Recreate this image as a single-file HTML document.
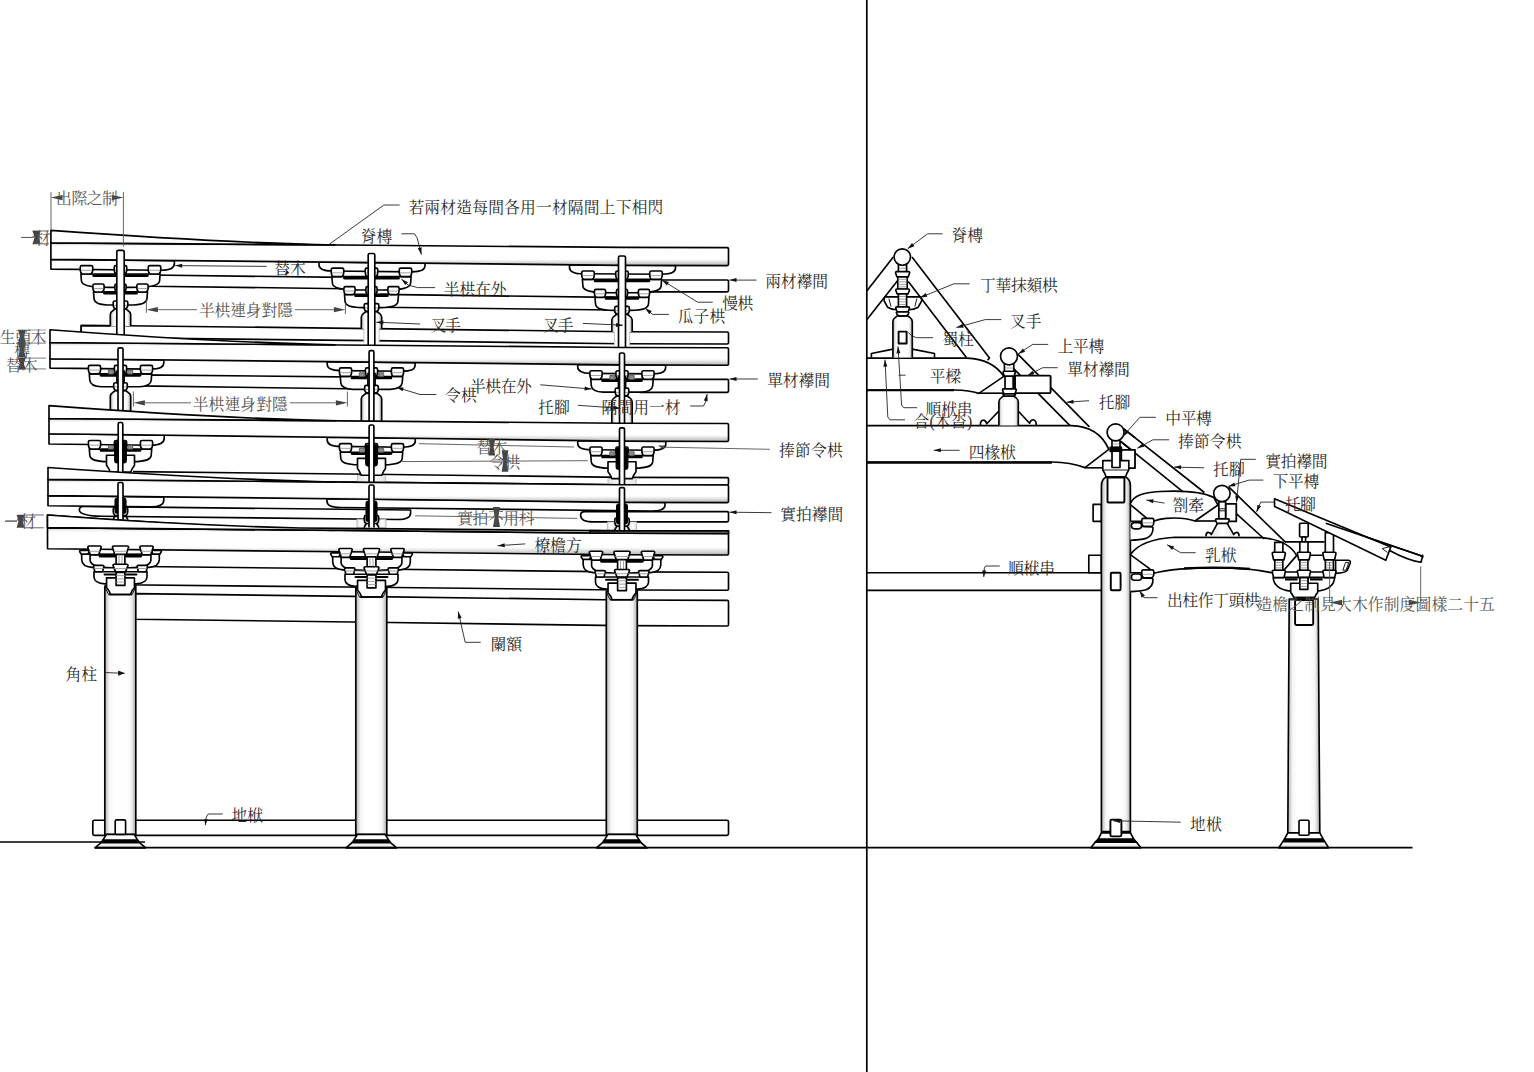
<!DOCTYPE html>
<html lang="zh-Hant"><head><meta charset="utf-8"><title>大木作制度圖樣 槫縫襻間</title><style>
html,body{margin:0;padding:0;background:#fff}
body{width:1534px;height:1072px;overflow:hidden;font-family:"Liberation Serif",serif}
svg{display:block}
.L path,.L rect,.L circle,.L polygon{stroke:#000;stroke-width:1.65;fill:#fff;stroke-linejoin:round;stroke-linecap:butt}
.L .pl{fill:url(#gp)}
.L .col{fill:url(#gc)}
.L .bt{fill:url(#gc)}
.L .g{stroke:#8a8a8a;stroke-width:.8;fill:none}
.L .lg{stroke:#c4c4c4;stroke-width:1;fill:none}
.L .nf{stroke:none;fill:#fff}
.L .wf{fill:#fff}
.L .bk{fill:#000}
.L .gb{fill:#8c8c8c;stroke:#444;stroke-width:.7}
.L .lgb{fill:url(#gl);stroke:#bdbdbd;stroke-width:1}
.L .bs{fill:url(#gb)}
.L .gs{fill:#808080}
.L .lgb2{fill:url(#gl);stroke:none}
.L .t{stroke-width:.9;fill:none}
.L .nofill{fill:none}
.L .thin{stroke-width:1;fill:none}
.A path{stroke:#222;stroke-width:.9;fill:none}
.A .ah{fill:#111;stroke:none}
.D path{stroke:#555;stroke-width:.9;fill:none}
.D .ah{fill:#444;stroke:none}
.D .w{stroke:#999;stroke-width:1.2}
.tx{fill:#2a2a2a;font-family:"Liberation Serif","Noto Serif CJK SC",serif;font-size:15.8px}
.tg{fill:#555;font-family:"Liberation Serif","Noto Serif CJK SC",serif;font-size:15.8px}
</style></head><body>
<svg width="1534" height="1072" viewBox="0 0 1534 1072">
<defs>
<linearGradient id="gp" x1="0" y1="0" x2="0" y2="1"><stop offset="0" stop-color="#d0d0d0"/><stop offset=".16" stop-color="#fff"/><stop offset=".72" stop-color="#fff"/><stop offset="1" stop-color="#b4b4b4"/></linearGradient>
<linearGradient id="gc" x1="0" y1="0" x2="1" y2="0"><stop offset="0" stop-color="#b0b0b0"/><stop offset=".15" stop-color="#f6f6f6"/><stop offset=".3" stop-color="#fff"/><stop offset=".7" stop-color="#fff"/><stop offset=".85" stop-color="#f4f4f4"/><stop offset="1" stop-color="#a8a8a8"/></linearGradient>
<linearGradient id="gl" x1="0" y1="0" x2="1" y2="0"><stop offset="0" stop-color="#e2e2e2"/><stop offset=".5" stop-color="#fff"/><stop offset="1" stop-color="#e2e2e2"/></linearGradient>
<linearGradient id="gb" x1="0" y1="0" x2="0" y2="1"><stop offset="0" stop-color="#fff"/><stop offset=".6" stop-color="#eee"/><stop offset="1" stop-color="#999"/></linearGradient>
</defs>
<g class="L">
<path d="M81.2 325.2L371.5 328.56L622 331.71L727.2 332Q728.5 332 728.5 333.3V342.7Q728.5 344 727.2 344L622 343.72L371.5 340.66L81.2 337.4Z"/>
<path d="M150 275.0L344 277.4V288.7L150 286.2Z"/>
<path d="M380 294.4L614 297.4V310.0L380 307.2Z"/>
<path d="M645 280.0H727.2Q728.5 280 728.5 281.3V290.6Q728.5 291.9 727.2 291.9H650Z"/>
<path d="M50.9 259.31V269.11L161.4 270.24C169.2 270.24 174.4 268.9 174.4 263.51V260.57Z"/>
<path d="M319 262.04v2.64C319 269.52 324.2 270.97 332 270.97L412 271.82C419.8 271.82 425 270.65 425 265.81V263.17Z"/>
<path d="M569.5 264.77v2.64C569.5 272.25 574.7 273.71 582.5 273.71L662.5 274.24C670.3 274.24 675.5 272.95 675.5 268.11V265.47Z"/>
<path class="pl" d="M50.9 242.81L371.5 245.3L622 247.41L727.2 247.6Q728.5 247.6 728.5 248.9V264.3Q728.5 265.6 727.2 265.6L622 265.35L371.5 262.58L50.9 259.31Z"/>
<path d="M50.9 242.81V230.4Q217.95 242.5 335 245.01Z"/>
<path d="M110.3 325.86H81.2V332.07"/>
<rect class="nf" x="363.9" y="328.06" width="15.2" height="15.1"/>
<path class="lg" d="M363.9 328.56V342.66M379.1 328.56V342.66"/>
<rect class="nf" x="614.4" y="331.21" width="15.2" height="15.01"/>
<path class="lg" d="M614.4 331.71V345.72M629.6 331.71V345.72"/>
<path d="M80.9 274.02L81.4 280.72C81.9 285.54 88.82 287.15 109.41 287.42H131.59C152.18 287.15 159.1 285.54 159.6 280.72L160.1 274.02Z"/>
<path d="M93.5 275.62H147.5" style="stroke-width:2.6;stroke-linecap:round"/>
<path d="M80.25 267.22Q80.25 265.62 81.85 265.62H91.15Q92.75 265.62 92.75 267.22V269.99Q92.55 273.52 90.55 274.02H82.45Q80.45 273.52 80.25 269.99Z"/>
<path class="g" d="M81.05 270.29H91.95"/>
<path d="M114.25 267.22Q114.25 265.62 115.85 265.62H125.15Q126.75 265.62 126.75 267.22V269.99Q126.55 273.52 124.55 274.02H116.45Q114.45 273.52 114.25 269.99Z"/>
<path class="g" d="M115.05 270.29H125.95"/>
<path d="M148.25 267.22Q148.25 265.62 149.85 265.62H159.15Q160.75 265.62 160.75 267.22V269.99Q160.55 273.52 158.55 274.02H150.45Q148.45 273.52 148.25 269.99Z"/>
<path class="g" d="M149.05 270.29H159.95"/>
<path d="M93.5 291.82L94 298.42C94.5 303.17 98.9 304.75 111.86 305.02H129.14C142.1 304.75 146.5 303.17 147 298.42L147.5 291.82Z"/>
<path d="M104.5 293.22H136.5" style="stroke-width:2.6;stroke-linecap:round"/>
<path d="M92.9 285.62Q92.9 284.02 94.5 284.02H102.5Q104.1 284.02 104.1 285.62V288.18Q103.9 291.52 101.9 292.02H95.1Q93.1 291.52 92.9 288.18Z"/>
<path class="g" d="M93.7 288.48H103.3"/>
<path d="M114.9 285.62Q114.9 284.02 116.5 284.02H124.5Q126.1 284.02 126.1 285.62V288.18Q125.9 291.52 123.9 292.02H117.1Q115.1 291.52 114.9 288.18Z"/>
<path class="g" d="M115.7 288.48H125.3"/>
<path d="M136.9 285.62Q136.9 284.02 138.5 284.02H146.5Q148.1 284.02 148.1 285.62V288.18Q147.9 291.52 145.9 292.02H139.1Q137.1 291.52 136.9 288.18Z"/>
<path class="g" d="M137.7 288.48H147.3"/>
<path class="bt" d="M110.3 326.06V314.52C110.3 311.14 113.5 310.82 115 309.02H126C127.5 310.82 130.7 311.14 130.7 314.52V326.06"/>
<path d="M113.2 302.62Q113.2 301.02 114.8 301.02H126.2Q127.8 301.02 127.8 302.62V305.07Q127.6 308.32 125.6 308.82H115.4Q113.4 308.32 113.2 305.07Z"/>
<path class="g" d="M114 305.37H127"/>
<path d="M116.8 335.27V251.9Q116.8 250.4 118.3 250.4H122.7Q124.2 250.4 124.2 251.9V335.27"/>
<path d="M331.9 276.58L332.4 283.28C332.9 288.1 339.82 289.71 360.41 289.98H382.59C403.18 289.71 410.1 288.1 410.6 283.28L411.1 276.58Z"/>
<path d="M344.5 278.18H398.5" style="stroke-width:2.6;stroke-linecap:round"/>
<path d="M331.25 269.78Q331.25 268.18 332.85 268.18H342.15Q343.75 268.18 343.75 269.78V272.54Q343.55 276.08 341.55 276.58H333.45Q331.45 276.08 331.25 272.54Z"/>
<path class="g" d="M332.05 272.84H342.95"/>
<path d="M365.25 269.78Q365.25 268.18 366.85 268.18H376.15Q377.75 268.18 377.75 269.78V272.54Q377.55 276.08 375.55 276.58H367.45Q365.45 276.08 365.25 272.54Z"/>
<path class="g" d="M366.05 272.84H376.95"/>
<path d="M399.25 269.78Q399.25 268.18 400.85 268.18H410.15Q411.75 268.18 411.75 269.78V272.54Q411.55 276.08 409.55 276.58H401.45Q399.45 276.08 399.25 272.54Z"/>
<path class="g" d="M400.05 272.84H410.95"/>
<path d="M344.5 294.38L345 300.98C345.5 305.73 349.9 307.31 362.86 307.58H380.14C393.1 307.31 397.5 305.73 398 300.98L398.5 294.38Z"/>
<path d="M355.5 295.78H387.5" style="stroke-width:2.6;stroke-linecap:round"/>
<path d="M343.9 288.18Q343.9 286.58 345.5 286.58H353.5Q355.1 286.58 355.1 288.18V290.74Q354.9 294.08 352.9 294.58H346.1Q344.1 294.08 343.9 290.74Z"/>
<path class="g" d="M344.7 291.04H354.3"/>
<path d="M365.9 288.18Q365.9 286.58 367.5 286.58H375.5Q377.1 286.58 377.1 288.18V290.74Q376.9 294.08 374.9 294.58H368.1Q366.1 294.08 365.9 290.74Z"/>
<path class="g" d="M366.7 291.04H376.3"/>
<path d="M387.9 288.18Q387.9 286.58 389.5 286.58H397.5Q399.1 286.58 399.1 288.18V290.74Q398.9 294.08 396.9 294.58H390.1Q388.1 294.08 387.9 290.74Z"/>
<path class="g" d="M388.7 291.04H398.3"/>
<path class="bt" d="M361.3 328.86V317.08C361.3 313.7 364.5 313.38 366 311.58H377C378.5 313.38 381.7 313.7 381.7 317.08V328.86"/>
<path d="M364.2 305.18Q364.2 303.58 365.8 303.58H377.2Q378.8 303.58 378.8 305.18V307.63Q378.6 310.88 376.6 311.38H366.4Q364.4 310.88 364.2 307.63Z"/>
<path class="g" d="M365 307.93H378"/>
<path d="M368.2 345.5V255Q368.2 253.5 369.7 253.5H373.3Q374.8 253.5 374.8 255V345.5"/>
<path d="M582.4 279.35L582.9 286.05C583.4 290.87 590.32 292.48 610.91 292.75H633.09C653.68 292.48 660.6 290.87 661.1 286.05L661.6 279.35Z"/>
<path d="M595 280.95H649" style="stroke-width:2.6;stroke-linecap:round"/>
<path d="M581.75 272.55Q581.75 270.95 583.35 270.95H592.65Q594.25 270.95 594.25 272.55V275.32Q594.05 278.85 592.05 279.35H583.95Q581.95 278.85 581.75 275.32Z"/>
<path class="g" d="M582.55 275.62H593.45"/>
<path d="M615.75 272.55Q615.75 270.95 617.35 270.95H626.65Q628.25 270.95 628.25 272.55V275.32Q628.05 278.85 626.05 279.35H617.95Q615.95 278.85 615.75 275.32Z"/>
<path class="g" d="M616.55 275.62H627.45"/>
<path d="M649.75 272.55Q649.75 270.95 651.35 270.95H660.65Q662.25 270.95 662.25 272.55V275.32Q662.05 278.85 660.05 279.35H651.95Q649.95 278.85 649.75 275.32Z"/>
<path class="g" d="M650.55 275.62H661.45"/>
<path d="M595 297.15L595.5 303.75C596 308.5 600.4 310.08 613.36 310.35H630.64C643.6 310.08 648 308.5 648.5 303.75L649 297.15Z"/>
<path d="M606 298.55H638" style="stroke-width:2.6;stroke-linecap:round"/>
<path d="M594.4 290.95Q594.4 289.35 596 289.35H604Q605.6 289.35 605.6 290.95V293.51Q605.4 296.85 603.4 297.35H596.6Q594.6 296.85 594.4 293.51Z"/>
<path class="g" d="M595.2 293.81H604.8"/>
<path d="M616.4 290.95Q616.4 289.35 618 289.35H626Q627.6 289.35 627.6 290.95V293.51Q627.4 296.85 625.4 297.35H618.6Q616.6 296.85 616.4 293.51Z"/>
<path class="g" d="M617.2 293.81H626.8"/>
<path d="M638.4 290.95Q638.4 289.35 640 289.35H648Q649.6 289.35 649.6 290.95V293.51Q649.4 296.85 647.4 297.35H640.6Q638.6 296.85 638.4 293.51Z"/>
<path class="g" d="M639.2 293.81H648.8"/>
<path class="bt" d="M611.8 332.01V319.85C611.8 316.47 615 316.15 616.5 314.35H627.5C629 316.15 632.2 316.47 632.2 319.85V332.01"/>
<path d="M614.7 307.95Q614.7 306.35 616.3 306.35H627.7Q629.3 306.35 629.3 307.95V310.4Q629.1 313.65 627.1 314.15H616.9Q614.9 313.65 614.7 310.4Z"/>
<path class="g" d="M615.5 310.7H628.5"/>
<path d="M618.5 347.79V257.5Q618.5 256 620 256H624Q625.5 256 625.5 257.5V347.79"/>
<path d="M138 374.9L364 377.1V389.0L138 385.9Z"/>
<path d="M636 379.3H727.2Q728.5 379.3 728.5 380.6V391.0Q728.5 392.3 727.2 392.3H640Z"/>
<path d="M50 358.8V368.1L150.8 369.14C158.6 369.14 163.8 367.88 163.8 362.77V359.98Z"/>
<path d="M327.2 361.67v2.64C327.2 369.15 332.4 370.6 340.2 370.6L402.1 371.27C409.9 371.27 415.1 370.1 415.1 365.26V362.62Z"/>
<path d="M577.7 364.45v2.64C577.7 371.93 582.9 373.39 590.7 373.39L652.6 373.82C660.4 373.82 665.6 372.53 665.6 367.69V365.05Z"/>
<path class="pl" d="M50 342.5L371.5 345.2L622 347.49L727.2 347.7Q728.5 347.7 728.5 349V363.9Q728.5 365.2 727.2 365.2L622 364.94L371.5 362.13L50 358.8Z"/>
<path d="M50 342.5V329.8Q217.5 342.31 335 344.9Z"/>
<path d="M89.3 373.93L89.8 380.33C90.3 384.94 95.54 386.47 101.78 386.73H139.22C145.46 386.47 150.7 384.94 151.2 380.33L151.7 373.93Z"/>
<path d="M101 375.33H140" style="stroke-width:2.6;stroke-linecap:round"/>
<rect class="gb" x="108.3" y="370.13" width="5" height="4"/>
<rect class="gb" x="127.7" y="370.13" width="5" height="4"/>
<path d="M88.4 366.93Q88.4 365.33 90 365.33H99Q100.6 365.33 100.6 366.93V369.75Q100.4 373.33 98.4 373.83H90.6Q88.6 373.33 88.4 369.75Z"/>
<path class="g" d="M89.2 370.05H99.8"/>
<path d="M114.4 366.93Q114.4 365.33 116 365.33H125Q126.6 365.33 126.6 366.93V369.75Q126.4 373.33 124.4 373.83H116.6Q114.6 373.33 114.4 369.75Z"/>
<path class="g" d="M115.2 370.05H125.8"/>
<path d="M140.4 366.93Q140.4 365.33 142 365.33H151Q152.6 365.33 152.6 366.93V369.75Q152.4 373.33 150.4 373.83H142.6Q140.6 373.33 140.4 369.75Z"/>
<path class="g" d="M141.2 370.05H151.8"/>
<path class="bt" d="M110.3 411.18V396.23C110.3 392.85 113.5 392.53 115 390.73H126C127.5 392.53 130.7 392.85 130.7 396.23V411.18"/>
<path d="M113.7 384.33Q113.7 382.73 115.3 382.73H125.7Q127.3 382.73 127.3 384.33V386.68Q127.1 389.83 125.1 390.33H115.9Q113.9 389.83 113.7 386.68Z"/>
<path class="g" d="M114.5 386.98H126.5"/>
<rect class="wf" x="116.9" y="371.13" width="7.2" height="11.8"/>
<path d="M118.9 383.03V389.53M122.1 383.03V389.53" style="stroke-width:2.6"/>
<path d="M118 411.18V349.3Q118 347.8 119.5 347.8H121.5Q123 347.8 123 349.3V411.18"/>
<path d="M340.3 376.53L340.8 382.93C341.3 387.54 346.54 389.07 352.78 389.33H390.22C396.46 389.07 401.7 387.54 402.2 382.93L402.7 376.53Z"/>
<path d="M352 377.93H391" style="stroke-width:2.6;stroke-linecap:round"/>
<rect class="gb" x="359.3" y="372.73" width="5" height="4"/>
<rect class="gb" x="378.7" y="372.73" width="5" height="4"/>
<path d="M339.4 369.53Q339.4 367.93 341 367.93H350Q351.6 367.93 351.6 369.53V372.35Q351.4 375.93 349.4 376.43H341.6Q339.6 375.93 339.4 372.35Z"/>
<path class="g" d="M340.2 372.65H350.8"/>
<path d="M365.4 369.53Q365.4 367.93 367 367.93H376Q377.6 367.93 377.6 369.53V372.35Q377.4 375.93 375.4 376.43H367.6Q365.6 375.93 365.4 372.35Z"/>
<path class="g" d="M366.2 372.65H376.8"/>
<path d="M391.4 369.53Q391.4 367.93 393 367.93H402Q403.6 367.93 403.6 369.53V372.35Q403.4 375.93 401.4 376.43H393.6Q391.6 375.93 391.4 372.35Z"/>
<path class="g" d="M392.2 372.65H402.8"/>
<path class="bt" d="M361.3 421.4V398.83C361.3 395.45 364.5 395.13 366 393.33H377C378.5 395.13 381.7 395.45 381.7 398.83V421.4"/>
<path d="M364.7 386.93Q364.7 385.33 366.3 385.33H376.7Q378.3 385.33 378.3 386.93V389.28Q378.1 392.43 376.1 392.93H366.9Q364.9 392.43 364.7 389.28Z"/>
<path class="g" d="M365.5 389.58H377.5"/>
<rect class="wf" x="367.9" y="373.73" width="7.2" height="11.8"/>
<path d="M369.9 385.63V392.13M373.1 385.63V392.13" style="stroke-width:2.6"/>
<path d="M369.1 421.4V352.1Q369.1 350.6 370.6 350.6H372.4Q373.9 350.6 373.9 352.1V421.4"/>
<path d="M590.8 379.34L591.3 385.74C591.8 390.35 597.04 391.89 603.28 392.14H640.72C646.96 391.89 652.2 390.35 652.7 385.74L653.2 379.34Z"/>
<path d="M602.5 380.74H641.5" style="stroke-width:2.6;stroke-linecap:round"/>
<rect class="gb" x="609.8" y="375.54" width="5" height="4"/>
<rect class="gb" x="629.2" y="375.54" width="5" height="4"/>
<path d="M589.9 372.34Q589.9 370.74 591.5 370.74H600.5Q602.1 370.74 602.1 372.34V375.16Q601.9 378.74 599.9 379.24H592.1Q590.1 378.74 589.9 375.16Z"/>
<path class="g" d="M590.7 375.46H601.3"/>
<path d="M615.9 372.34Q615.9 370.74 617.5 370.74H626.5Q628.1 370.74 628.1 372.34V375.16Q627.9 378.74 625.9 379.24H618.1Q616.1 378.74 615.9 375.16Z"/>
<path class="g" d="M616.7 375.46H627.3"/>
<path d="M641.9 372.34Q641.9 370.74 643.5 370.74H652.5Q654.1 370.74 654.1 372.34V375.16Q653.9 378.74 651.9 379.24H644.1Q642.1 378.74 641.9 375.16Z"/>
<path class="g" d="M642.7 375.46H653.3"/>
<path class="bt" d="M611.8 423.6V401.64C611.8 398.27 615 397.94 616.5 396.14H627.5C629 397.94 632.2 398.27 632.2 401.64V423.6"/>
<path d="M615.2 389.74Q615.2 388.14 616.8 388.14H627.2Q628.8 388.14 628.8 389.74V392.1Q628.6 395.24 626.6 395.74H617.4Q615.4 395.24 615.2 392.1Z"/>
<path class="g" d="M616 392.4H628"/>
<rect class="wf" x="618.4" y="376.54" width="7.2" height="11.8"/>
<path d="M620.4 388.44V394.94M623.6 388.44V394.94" style="stroke-width:2.6"/>
<path d="M619.5 423.6V354.5Q619.5 353 621 353H623Q624.5 353 624.5 354.5V423.6"/>
<path d="M133 471.6L371.5 474.27L622 477.32L727.2 477.6Q728.5 477.6 728.5 478.9V483.7Q728.5 485 727.2 485L622 484.78L371.5 482.31L133 480.15"/>
<path d="M49 433.79V443.99L151.2 445.26C159 445.26 164.2 443.89 164.2 438.28V435.22Z"/>
<path d="M327.2 437.25v2.7C327.2 444.9 332.4 446.41 340.2 446.41L402.3 447.22C410.1 447.22 415.3 446.05 415.3 441.1V438.4Z"/>
<path d="M577.7 440.59v2.7C577.7 448.24 582.9 449.77 590.7 449.77L652.8 450.28C660.6 450.28 665.8 448.97 665.8 444.02V441.32Z"/>
<path class="pl" d="M49 418.49L371.5 421.1L622 423.3L727.2 423.5Q728.5 423.5 728.5 424.8V440.2Q728.5 441.5 727.2 441.5L622 441.19L371.5 437.8L49 433.79Z"/>
<path d="M49 418.49V405.6Q217 418.25 335 420.8Z"/>
<rect class="lgb" x="357.5" y="475.47" width="28.2" height="6.64"/>
<rect class="lgb" x="608" y="478.52" width="28.2" height="6.05"/>
<path d="M89.3 449.08L89.8 455.38C90.3 459.91 95.54 461.43 107.4 461.68H133.6C145.46 461.43 150.7 459.91 151.2 455.38L151.7 449.08Z"/>
<path d="M101 450.48H140" style="stroke-width:2.6;stroke-linecap:round"/>
<rect class="gb" x="108.3" y="445.28" width="5" height="4"/>
<rect class="gb" x="127.7" y="445.28" width="5" height="4"/>
<path d="M88.4 442.08Q88.4 440.48 90 440.48H99Q100.6 440.48 100.6 442.08V444.9Q100.4 448.48 98.4 448.98H90.6Q88.6 448.48 88.4 444.9Z"/>
<path class="g" d="M89.2 445.2H99.8"/>
<path d="M114.4 442.08Q114.4 440.48 116 440.48H125Q126.6 440.48 126.6 442.08V444.9Q126.4 448.48 124.4 448.98H116.6Q114.6 448.48 114.4 444.9Z"/>
<path class="g" d="M115.2 445.2H125.8"/>
<path d="M140.4 442.08Q140.4 440.48 142 440.48H151Q152.6 440.48 152.6 442.08V444.9Q152.4 448.48 150.4 448.98H142.6Q140.6 448.48 140.4 444.9Z"/>
<path class="g" d="M141.2 445.2H151.8"/>
<path d="M106.5 455.28H134.5V465.28Q132 468.34 130.8 472.08H110.2Q109 468.34 106.5 465.28Z"/>
<rect class="bk" x="114.9" y="441.88" width="11.2" height="20.8" rx="2.5"/>
<path d="M118.2 472V424Q118.2 422.5 119.7 422.5H121.3Q122.8 422.5 122.8 424V472"/>
<path d="M340.3 452.2L340.8 458.5C341.3 463.04 346.54 464.55 358.4 464.8H384.6C396.46 464.55 401.7 463.04 402.2 458.5L402.7 452.2Z"/>
<path d="M352 453.6H391" style="stroke-width:2.6;stroke-linecap:round"/>
<rect class="gb" x="359.3" y="448.4" width="5" height="4"/>
<rect class="gb" x="378.7" y="448.4" width="5" height="4"/>
<path d="M339.4 445.2Q339.4 443.6 341 443.6H350Q351.6 443.6 351.6 445.2V448.02Q351.4 451.6 349.4 452.1H341.6Q339.6 451.6 339.4 448.02Z"/>
<path class="g" d="M340.2 448.32H350.8"/>
<path d="M365.4 445.2Q365.4 443.6 367 443.6H376Q377.6 443.6 377.6 445.2V448.02Q377.4 451.6 375.4 452.1H367.6Q365.6 451.6 365.4 448.02Z"/>
<path class="g" d="M366.2 448.32H376.8"/>
<path d="M391.4 445.2Q391.4 443.6 393 443.6H402Q403.6 443.6 403.6 445.2V448.02Q403.4 451.6 401.4 452.1H393.6Q391.6 451.6 391.4 448.02Z"/>
<path class="g" d="M392.2 448.32H402.8"/>
<path d="M357.5 458.4H385.5V468.4Q383 471.46 381.8 475.2H361.2Q360 471.46 357.5 468.4Z"/>
<rect class="bk" x="365.9" y="445" width="11.2" height="20.8" rx="2.5"/>
<path d="M369.1 482.51V426.5Q369.1 425 370.6 425H372.4Q373.9 425 373.9 426.5V482.51"/>
<path d="M590.8 455.59L591.3 461.89C591.8 466.43 597.04 467.94 608.9 468.19H635.1C646.96 467.94 652.2 466.43 652.7 461.89L653.2 455.59Z"/>
<path d="M602.5 456.99H641.5" style="stroke-width:2.6;stroke-linecap:round"/>
<rect class="gb" x="609.8" y="451.79" width="5" height="4"/>
<rect class="gb" x="629.2" y="451.79" width="5" height="4"/>
<path d="M589.9 448.59Q589.9 446.99 591.5 446.99H600.5Q602.1 446.99 602.1 448.59V451.41Q601.9 454.99 599.9 455.49H592.1Q590.1 454.99 589.9 451.41Z"/>
<path class="g" d="M590.7 451.71H601.3"/>
<path d="M615.9 448.59Q615.9 446.99 617.5 446.99H626.5Q628.1 446.99 628.1 448.59V451.41Q627.9 454.99 625.9 455.49H618.1Q616.1 454.99 615.9 451.41Z"/>
<path class="g" d="M616.7 451.71H627.3"/>
<path d="M641.9 448.59Q641.9 446.99 643.5 446.99H652.5Q654.1 446.99 654.1 448.59V451.41Q653.9 454.99 651.9 455.49H644.1Q642.1 454.99 641.9 451.41Z"/>
<path class="g" d="M642.7 451.71H653.3"/>
<path d="M608 461.79H636V471.79Q633.5 474.85 632.3 478.59H611.7Q610.5 474.85 608 471.79Z"/>
<rect class="bk" x="616.4" y="448.39" width="11.2" height="20.8" rx="2.5"/>
<path d="M619.5 484.98V429.3Q619.5 427.8 621 427.8H623Q624.5 427.8 624.5 429.3V484.98"/>
<path d="M83.4 506.44Q79.4 506.4 79.4 509.9C79.4 513.9 87.4 515.85 101.4 516.24L397.6 519.45C405.6 519.45 410.6 518.16 410.6 512.88V510Z"/>
<path d="M593.6 511.6H727.2Q728.5 511.6 728.5 512.9V520.6Q728.5 521.9 727.2 521.9H593.6C585.6 521.9 580.6 519.4 580.6 515.2Q580.6 511.6 584.6 511.6Z"/>
<path d="M48 495.58V505.78L150.8 506.94C158.6 506.94 163.8 505.56 163.8 499.95V496.89Z"/>
<path d="M327 498.74v2.58C327 506.05 332.2 507.48 340 507.48L652 511C659.8 511 665 509.74 665 505.01V502.43Z"/>
<path class="pl" d="M48 479.38L371.5 482.31L622 484.78L727.2 485Q728.5 485 728.5 486.3V501.3Q728.5 502.6 727.2 502.6L622 502.32L371.5 499.24L48 495.58Z"/>
<path d="M48 479.38V467.5Q216.5 479.31 335 481.98Z"/>
<path d="M113.3 509.1Q113.3 507.5 114.9 507.5H126.1Q127.7 507.5 127.7 509.1V511.66Q127.5 515 125.5 515.5H115.5Q113.5 515 113.3 511.66Z"/>
<path d="M115.5 515.5L113 519.6M125.5 515.5L128 519.6"/>
<rect class="bk" x="115.3" y="498.4" width="10.4" height="14.7" rx="2.2"/>
<path d="M118 519.6V484Q118 482.5 119.5 482.5H121.5Q123 482.5 123 484V519.6"/>
<rect class="lgb" x="356.9" y="519.4" width="7.6" height="8.2"/>
<rect class="lgb" x="378.5" y="519.4" width="7.6" height="8.2"/>
<path d="M364.3 517.1Q364.3 515.5 365.9 515.5H377.1Q378.7 515.5 378.7 517.1V519.66Q378.5 523 376.5 523.5H366.5Q364.5 523 364.3 519.66Z"/>
<path d="M366.5 523.5L364 527.6M376.5 523.5L379 527.6"/>
<rect class="bk" x="366.3" y="501.24" width="10.4" height="19.86" rx="2.2"/>
<path d="M369 527.6V486.5Q369 485 370.5 485H372.5Q374 485 374 486.5V527.6"/>
<rect class="lgb" x="607.4" y="522" width="7.6" height="8.2"/>
<rect class="lgb" x="629" y="522" width="7.6" height="8.2"/>
<path d="M614.8 519.7Q614.8 518.1 616.4 518.1H627.6Q629.2 518.1 629.2 519.7V522.26Q629 525.6 627 526.1H617Q615 525.6 614.8 522.26Z"/>
<path d="M617 526.1L614.5 530.2M627 526.1L629.5 530.2"/>
<rect class="bk" x="616.8" y="504.32" width="10.4" height="19.38" rx="2.2"/>
<path d="M619.5 530.2V489.1Q619.5 487.6 621 487.6H623Q624.5 487.6 624.5 489.1V530.2"/>
<path d="M135 593.6L371.5 596.57L622 599.99L727.2 600.3Q728.5 600.3 728.5 601.6V624.7Q728.5 626 727.2 626L622 625.68L371.5 622.22L135 619.2Z"/>
<path d="M120 566.28L371.5 568.99L622 571.93L727.2 572.2Q728.5 572.2 728.5 573.5V588.9Q728.5 590.2 727.2 590.2L622 589.95L371.5 587.24L120 584.73Z"/>
<rect x="92.8" y="820.2" width="635.7" height="15.2" rx="1.6"/>
<path class="col" d="M104.8 586.01V834.6H135.8V586.01Z"/>
<path d="M106.5 834.4L134.1 834.4L137.9 840.4L102.7 840.4Z"/>
<path class="bk" d="M102.7 840.4L137.9 840.4L139.5 842.6L101.1 842.6Z"/>
<path class="bs" d="M101.1 842.6L139.5 842.6L145.7 847.8L94.9 847.8Z"/>
<path class="col" d="M355.8 588.52V834.6H386.8V588.52Z"/>
<path d="M357.5 834.4L385.1 834.4L388.9 840.4L353.7 840.4Z"/>
<path class="bk" d="M353.7 840.4L388.9 840.4L390.5 842.6L352.1 842.6Z"/>
<path class="bs" d="M352.1 842.6L390.5 842.6L396.7 847.8L345.9 847.8Z"/>
<path class="col" d="M606.3 591.25V834.6H637.3V591.25Z"/>
<path d="M608 834.4L635.6 834.4L639.4 840.4L604.2 840.4Z"/>
<path class="bk" d="M604.2 840.4L639.4 840.4L641 842.6L602.6 842.6Z"/>
<path class="bs" d="M602.6 842.6L641 842.6L647.2 847.8L596.4 847.8Z"/>
<rect x="115.2" y="819.8" width="10.4" height="14.6" rx="1.4"/>
<path class="pl" d="M47.5 527.58L371.5 530.67L622 533.26L727.2 533.5Q728.5 533.5 728.5 534.8V553.7Q728.5 555 727.2 555L622 554.75L371.5 552.02L47.5 548.77Z"/>
<path d="M47.5 527.58V515Q216.25 527.59 335 530.32Z"/>
<path d="M47.5 527.58V515Q190 525.54 300 527.99L371.5 528.67L622 530.86L728.5 530.9V533.5L622 533.26L371.5 530.67Z"/>
<path class="gs" d="M590 530.63L622 530.86L728.5 530.9V533.5L622 533.26L590 532.93Z"/>
<path d="M79.6 551.61Q79.6 550.41 80.8 550.41H88.2Q89.4 550.41 89.4 551.61L87.7 554.31H81.3Z"/>
<path d="M151.6 551.61Q151.6 550.41 152.8 550.41H160.2Q161.4 550.41 161.4 551.61L159.7 554.31H153.3Z"/>
<path d="M81.7 554.21V559.81C81.9 564.11 85.5 566.91 91.8 567.41H149.2C155.5 566.91 159.1 564.11 159.3 559.81V554.21Z"/>
<path d="M90.1 554.51V560.41C90.5 564.91 98.5 567.71 112.5 567.91H128.5C142.5 567.71 150.5 564.91 150.9 560.41V554.51Z"/>
<path d="M99.9 556.11H115.3" style="stroke-width:2.6;stroke-linecap:round"/>
<path d="M125.9 556.11H140.9" style="stroke-width:2.6;stroke-linecap:round"/>
<path d="M87.8 547.21Q87.8 546.01 89 546.01H100Q101.2 546.01 101.2 547.21L98.7 554.81H90.3Z"/>
<path class="g" d="M89 551.29H100"/>
<path d="M112.4 547.21Q112.4 546.01 113.6 546.01H127.4Q128.6 546.01 128.6 547.21L126.1 554.81H114.9Z"/>
<path class="g" d="M113.6 551.29H127.4"/>
<path d="M139.8 547.21Q139.8 546.01 141 546.01H152Q153.2 546.01 153.2 547.21L150.7 554.81H142.3Z"/>
<path class="g" d="M141 551.29H152"/>
<rect x="116.1" y="554.41" width="8.8" height="12.3"/>
<path class="g" d="M119.03 554.41V566.71"/>
<path class="g" d="M121.97 554.41V566.71"/>
<path d="M94 571.71V577.31C94.3 581.11 98.5 583.51 104.9 583.91H136.1C142.5 583.51 146.7 581.11 147 577.31V571.71Z"/>
<path d="M93.5 566.61Q93.5 565.41 94.7 565.41H102.7Q103.9 565.41 103.9 566.61L102.5 571.71H94.9Z"/>
<path class="g" d="M115 568.51H93.9"/>
<path d="M115.1 574.41H104.5" style="stroke-width:2;stroke-linecap:round"/>
<path d="M137.1 566.61Q137.1 565.41 138.3 565.41H146.3Q147.5 565.41 147.5 566.61L146.1 571.71H138.5Z"/>
<path class="g" d="M126 568.51H147.1"/>
<path d="M125.9 574.41H136.5" style="stroke-width:2;stroke-linecap:round"/>
<path d="M113 565.41Q113 564.21 114.2 564.21H126.8Q128 564.21 128 565.41L125.5 571.71H115.5Z"/>
<path class="g" d="M113.5 568.51H127.5"/>
<path d="M106.55 577.91H134.45V587.51Q131.5 590.66 130.3 594.51H110.7Q109.5 590.66 106.55 587.51Z"/>
<rect x="116.1" y="572.31" width="8.8" height="13.1"/>
<path class="g" d="M116.1 575.58H124.9"/>
<path class="g" d="M116.1 578.86H124.9"/>
<path class="g" d="M116.1 582.13H124.9"/>
<path class="t" d="M104.8 586.91L108.5 594.51M135.8 586.91L132.1 594.51"/>
<path d="M108.5 594.51H132.1"/>
<path d="M330.6 554.12Q330.6 552.92 331.8 552.92H339.2Q340.4 552.92 340.4 554.12L338.7 556.82H332.3Z"/>
<path d="M402.6 554.12Q402.6 552.92 403.8 552.92H411.2Q412.4 552.92 412.4 554.12L410.7 556.82H404.3Z"/>
<path d="M332.7 556.72V562.32C332.9 566.62 336.5 569.42 342.8 569.92H400.2C406.5 569.42 410.1 566.62 410.3 562.32V556.72Z"/>
<path d="M341.1 557.02V562.92C341.5 567.42 349.5 570.22 363.5 570.42H379.5C393.5 570.22 401.5 567.42 401.9 562.92V557.02Z"/>
<path d="M350.9 558.62H366.3" style="stroke-width:2.6;stroke-linecap:round"/>
<path d="M376.9 558.62H391.9" style="stroke-width:2.6;stroke-linecap:round"/>
<path d="M338.8 549.72Q338.8 548.52 340 548.52H351Q352.2 548.52 352.2 549.72L349.7 557.32H341.3Z"/>
<path class="g" d="M340 553.8H351"/>
<path d="M363.4 549.72Q363.4 548.52 364.6 548.52H378.4Q379.6 548.52 379.6 549.72L377.1 557.32H365.9Z"/>
<path class="g" d="M364.6 553.8H378.4"/>
<path d="M390.8 549.72Q390.8 548.52 392 548.52H403Q404.2 548.52 404.2 549.72L401.7 557.32H393.3Z"/>
<path class="g" d="M392 553.8H403"/>
<rect x="367.1" y="556.92" width="8.8" height="12.3"/>
<path class="g" d="M370.03 556.92V569.22"/>
<path class="g" d="M372.97 556.92V569.22"/>
<path d="M345 574.22V579.82C345.3 583.62 349.5 586.02 355.9 586.42H387.1C393.5 586.02 397.7 583.62 398 579.82V574.22Z"/>
<path d="M344.5 569.12Q344.5 567.92 345.7 567.92H353.7Q354.9 567.92 354.9 569.12L353.5 574.22H345.9Z"/>
<path class="g" d="M366 571.02H344.9"/>
<path d="M366.1 576.92H355.5" style="stroke-width:2;stroke-linecap:round"/>
<path d="M388.1 569.12Q388.1 567.92 389.3 567.92H397.3Q398.5 567.92 398.5 569.12L397.1 574.22H389.5Z"/>
<path class="g" d="M377 571.02H398.1"/>
<path d="M376.9 576.92H387.5" style="stroke-width:2;stroke-linecap:round"/>
<path d="M364 567.92Q364 566.72 365.2 566.72H377.8Q379 566.72 379 567.92L376.5 574.22H366.5Z"/>
<path class="g" d="M364.5 571.02H378.5"/>
<path d="M357.55 580.42H385.45V590.02Q382.5 593.17 381.3 597.02H361.7Q360.5 593.17 357.55 590.02Z"/>
<rect x="367.1" y="574.82" width="8.8" height="13.1"/>
<path class="g" d="M367.1 578.1H375.9"/>
<path class="g" d="M367.1 581.37H375.9"/>
<path class="g" d="M367.1 584.65H375.9"/>
<path class="t" d="M355.8 589.42L359.5 597.02M386.8 589.42L383.1 597.02"/>
<path d="M359.5 597.02H383.1"/>
<path d="M581.1 556.85Q581.1 555.65 582.3 555.65H589.7Q590.9 555.65 590.9 556.85L589.2 559.55H582.8Z"/>
<path d="M653.1 556.85Q653.1 555.65 654.3 555.65H661.7Q662.9 555.65 662.9 556.85L661.2 559.55H654.8Z"/>
<path d="M583.2 559.45V565.05C583.4 569.35 587 572.15 593.3 572.65H650.7C657 572.15 660.6 569.35 660.8 565.05V559.45Z"/>
<path d="M591.6 559.75V565.65C592 570.15 600 572.95 614 573.15H630C644 572.95 652 570.15 652.4 565.65V559.75Z"/>
<path d="M601.4 561.35H616.8" style="stroke-width:2.6;stroke-linecap:round"/>
<path d="M627.4 561.35H642.4" style="stroke-width:2.6;stroke-linecap:round"/>
<path d="M589.3 552.45Q589.3 551.25 590.5 551.25H601.5Q602.7 551.25 602.7 552.45L600.2 560.05H591.8Z"/>
<path class="g" d="M590.5 556.53H601.5"/>
<path d="M613.9 552.45Q613.9 551.25 615.1 551.25H628.9Q630.1 551.25 630.1 552.45L627.6 560.05H616.4Z"/>
<path class="g" d="M615.1 556.53H628.9"/>
<path d="M641.3 552.45Q641.3 551.25 642.5 551.25H653.5Q654.7 551.25 654.7 552.45L652.2 560.05H643.8Z"/>
<path class="g" d="M642.5 556.53H653.5"/>
<rect x="617.6" y="559.65" width="8.8" height="12.3"/>
<path class="g" d="M620.53 559.65V571.95"/>
<path class="g" d="M623.47 559.65V571.95"/>
<path d="M595.5 576.95V582.55C595.8 586.35 600 588.75 606.4 589.15H637.6C644 588.75 648.2 586.35 648.5 582.55V576.95Z"/>
<path d="M595 571.85Q595 570.65 596.2 570.65H604.2Q605.4 570.65 605.4 571.85L604 576.95H596.4Z"/>
<path class="g" d="M616.5 573.75H595.4"/>
<path d="M616.6 579.65H606" style="stroke-width:2;stroke-linecap:round"/>
<path d="M638.6 571.85Q638.6 570.65 639.8 570.65H647.8Q649 570.65 649 571.85L647.6 576.95H640Z"/>
<path class="g" d="M627.5 573.75H648.6"/>
<path d="M627.4 579.65H638" style="stroke-width:2;stroke-linecap:round"/>
<path d="M614.5 570.65Q614.5 569.45 615.7 569.45H628.3Q629.5 569.45 629.5 570.65L627 576.95H617Z"/>
<path class="g" d="M615 573.75H629"/>
<path d="M608.05 583.15H635.95V592.75Q633 595.9 631.8 599.75H612.2Q611 595.9 608.05 592.75Z"/>
<rect x="617.6" y="577.55" width="8.8" height="13.1"/>
<path class="g" d="M617.6 580.83H626.4"/>
<path class="g" d="M617.6 584.1H626.4"/>
<path class="g" d="M617.6 587.38H626.4"/>
<path class="t" d="M606.3 592.15L610 599.75M637.3 592.15L633.6 599.75"/>
<path d="M610 599.75H633.6"/>
</g>
<g class="L">
<path d="M866.8 572.7H1101.3M866.8 590.4H1101.3"/>
<rect x="1088.8" y="555.2" width="12.5" height="17.5"/>
<path d="M866.8 425.6H1071C1088 426,1102 433.5,1108.8 449.4L1085 467.6C1074 463.6,1064 462.2,1052 462H866.8"/>
<path d="M866.8 462.6H1052" style="stroke-width:2.2"/>
<path d="M1085 467.8H1103"/>
<path d="M866.8 358.1H967C982 358.6,996 364.5,1003.8 376.4L978.8 393.4C972 391,964 390.1,954 390H866.8"/>
<path d="M866.8 390.3H954" style="stroke-width:2"/>
<path d="M978.8 393.2H1003"/>
<path class="bt" d="M892.9 357.4V321.5C892.9 318.12 895.6 317.8 897.1 316H908.1C909.6 317.8 912.3 318.12 912.3 321.5V357.4"/>
<rect x="898.6" y="331.6" width="8" height="11.9" style="stroke-width:1.9"/>
<path class="nofill" d="M893.0 349.1L871.4 353.5V357.4M912.4 349.1L934.5 353.5V357.4"/>
<path d="M885 296.9H920.6Q922.4 299 921.6 301L918.2 307.2Q914 309.6 909 309.8H897Q891.6 309.6 887.6 307.2L884.2 301Q883.4 299 885 296.9Z"/>
<path class="t" d="M888.9 298.6L891 306.6M916.9 298.6L914.8 306.6"/>
<path class="nofill" d="M893.3 257L866.8 291M898.3 279.8L866.8 319.8"/>
<path class="nofill" d="M912 257L989.5 357.9L987.6 360.2M908.3 281.6L966.4 357.6"/>
<rect x="898.4" y="264.5" width="8.2" height="7.5"/>
<path class="g" d="M898.9 268.25H906.1"/>
<path d="M895.5 272.8Q895.5 271.6 896.7 271.6H908.5Q909.7 271.6 909.7 272.8L908.3 276.8H896.9Z"/>
<rect x="897.8" y="276.8" width="9.4" height="12.6"/>
<path class="g" d="M898.3 279.32H906.7"/>
<path class="g" d="M898.3 281.84H906.7"/>
<path class="g" d="M898.3 284.36H906.7"/>
<path class="g" d="M898.3 286.88H906.7"/>
<path d="M895.7 290.2Q895.7 289 896.9 289H908.3Q909.5 289 909.5 290.2L908.1 293.8H897.1Z"/>
<rect x="898.4" y="293.8" width="8.2" height="13.4"/>
<path class="g" d="M898.9 296.48H906.1"/>
<path class="g" d="M898.9 299.16H906.1"/>
<path class="g" d="M898.9 301.84H906.1"/>
<path class="g" d="M898.9 304.52H906.1"/>
<path d="M895.7 308Q895.7 306.8 896.9 306.8H908.3Q909.5 306.8 909.5 308L908.1 311.8H897.1Z"/>
<path class="nofill" d="M896.2 311.8Q896.6 314.6 898.6 315.8H906.6Q908.6 314.6 909 311.8"/>
<circle cx="902.3" cy="257" r="8.2"/>
<path class="nofill" d="M1018.1 354.4L1089.4 426.9M1013.6 368.6L1070 425.6"/>
<path class="bt" d="M998.9 425.6V401.7C998.9 398.32 1001.6 398 1003.1 396.2H1014.1C1015.6 398 1018.3 398.32 1018.3 401.7V425.6"/>
<path class="nofill" d="M998.6 411.3L986.8 423.8Q985.6 420 982.8 420.2Q980.2 420.8 980.4 425.4M1018.4 411.3L1029.6 423.2Q1030.8 419.6 1033.4 419.8Q1036.2 420.4 1036.4 425.4"/>
<rect x="1015" y="375.6" width="35.6" height="17.5" rx="1" style="stroke-width:1.9"/>
<rect x="1004.4" y="364" width="9.4" height="8"/>
<path class="g" d="M1004.9 368H1013.3"/>
<path d="M1003 372.4Q1003 371.2 1004.2 371.2H1014.2Q1015.4 371.2 1015.4 372.4L1014 376.2H1004.4Z"/>
<rect class="bt" x="1005" y="376.2" width="8.2" height="13.8"/>
<path d="M1002.5 390Q1002.5 388.8 1003.7 388.8H1015.1Q1016.3 388.8 1016.3 390L1014.9 393.8H1003.9Z"/>
<path class="nofill" d="M1002.8 393.8Q1003.2 395.4 1004.8 396.2H1013.4Q1015.4 395.4 1015.8 393.8"/>
<circle cx="1009" cy="356.3" r="8.5"/>
<path class="nofill" d="M1123.8 428.8L1204.4 492.5M1120.6 441.3L1183.1 491.9"/>
<path class="col" d="M1101.4 833V486C1101.4 481,1103.2 478.4,1106.4 477H1125.4C1128.6 478.4,1130.4 481,1130.4 486V833Z"/>
<path d="M1101.4 832.8L1130.4 832.8L1133.8 839.2L1098.2 839.2Z"/>
<path class="bk" d="M1098.2 839.2L1133.8 839.2L1136.6 842.2L1095.2 842.2Z"/>
<path class="bs" d="M1095.2 842.2L1136.6 842.2L1140.8 847.8L1090.8 847.8Z"/>
<rect x="1107.5" y="477.5" width="16.9" height="25" rx="1" style="stroke-width:1.9"/>
<rect x="1093.1" y="504.4" width="8.1" height="16.9"/>
<rect x="1110.8" y="572.7" width="9.8" height="17.5" rx="1" style="stroke-width:1.9"/>
<rect x="1110.4" y="819.6" width="11" height="16.8" rx="1.5" style="stroke-width:1.9"/>
<path d="M1101.4 831.6H1110.6M1121 831.6H1130.4"/>
<rect x="1121.3" y="449.8" width="13.7" height="18.3" style="stroke-width:1.8"/>
<path d="M1102.8 460.6H1128.8V470Q1126.7 473.11 1125.5 476.9H1106.1Q1104.9 473.11 1102.8 470Z"/>
<path class="t" d="M1103 470H1128.6"/>
<rect x="1112" y="440.4" width="8" height="7.2"/>
<path class="g" d="M1112.5 444H1119.5"/>
<rect class="bk" x="1110.2" y="447.4" width="11.2" height="4"/>
<rect class="bt" x="1112" y="451.2" width="8" height="16.3"/>
<circle cx="1115.6" cy="432.3" r="8.5"/>
<path class="nofill" d="M1123.8 428.8L1135 437.7M1120.6 441.3L1131.4 450"/>
<path d="M1130.4 503.4C1134 496,1142 492.6,1160 491.5C1182 490.4,1202 491.4,1213.8 497.6L1218 505L1195 521C1188 518.6,1176 517.6,1166 518.4C1161 518.8,1157 519.8,1154 521L1147.5 518.8L1130.4 504.6Z"/>
<path d="M1195 521H1216.4"/>
<path d="M1130.4 521.3H1142V526.4Q1152.6 526.4 1153 527.6Q1153.4 535.4 1146 538.4Q1140 540 1130.4 540.2"/>
<rect x="1131.4" y="522.6" width="10.2" height="6.2" rx="3"/>
<path d="M1141.8 520Q1141.8 518.4 1143.4 518.4H1152.2Q1153.8 518.4 1153.8 520V522.56Q1153.6 525.9 1151.6 526.4H1144Q1142 525.9 1141.8 522.56Z"/>
<path class="g" d="M1142.6 522.86H1153"/>
<path d="M1130.4 554.6C1137 545,1150 538.6,1175 537.2L1262 537.6C1278 539.2,1291 545,1296.6 555.6L1282 572.4L1271.2 572.6C1258 569.5,1240 567.8,1215 567.8C1190 567.8,1168 569.5,1153.8 573.2L1148.8 568.1Z"/>
<path class="nofill" d="M1184 568.4C1200 567.6,1232 567.6,1250 568.8" style="stroke-width:2.3"/>
<path d="M1130.4 572.7H1142V577.8Q1152.6 577.8 1153 579Q1153.4 586.8 1146 589.8Q1140 591.4 1130.4 591.6"/>
<rect x="1131.4" y="574" width="10.2" height="6.2" rx="3"/>
<path d="M1141.8 571.4Q1141.8 569.8 1143.4 569.8H1152.2Q1153.8 569.8 1153.8 571.4V573.96Q1153.6 577.3 1151.6 577.8H1144Q1142 577.3 1141.8 573.96Z"/>
<path class="g" d="M1142.6 574.26H1153"/>
<path class="nofill" d="M1229 487.2L1285.4 542.1M1236.6 513.9L1264.3 539"/>
<path class="lgb2" d="M1217.6 523.2L1211.2 535.8H1233.8L1227 523.2Z"/>
<path class="nofill" d="M1217.6 523.2L1211.2 534.6Q1210.4 532.2 1208 532.4Q1205.8 533 1206 536.4M1227 523.2L1233.8 534.6Q1234.6 532.2 1237 532.4Q1239.2 533 1239 536.4"/>
<rect x="1225.6" y="503.8" width="10.7" height="17.5" style="stroke-width:1.8"/>
<rect class="bt" x="1218.8" y="501.6" width="6.8" height="19.6"/>
<path class="t" d="M1218.8 508.8H1225.6M1218.8 510.8H1225.6M1218.8 518.4H1225.6"/>
<path d="M1215.5 520Q1215.5 518.8 1216.7 518.8H1228.1Q1229.3 518.8 1229.3 520L1227.9 523.4H1216.9Z"/>
<circle cx="1221.9" cy="493.5" r="8.2"/>
<path class="col" d="M1289.2 599L1287.8 833H1319.8L1318.2 599Z"/>
<path d="M1287.8 832.8L1319.8 832.8L1323.2 839.2L1284.4 839.2Z"/>
<path class="bk" d="M1284.4 839.2L1323.2 839.2L1324.8 841.6L1282.8 841.6Z"/>
<path class="bs" d="M1282.8 841.6L1324.8 841.6L1328.6 847.8L1278.8 847.8Z"/>
<rect x="1295.1" y="600" width="18.1" height="25" rx="1.2" style="stroke-width:1.9"/>
<rect x="1299" y="820.2" width="10" height="15" rx="1"/>
<path d="M1273.2 577.4C1273.4 584,1278 589.6,1291.4 591.2H1317C1329.6 589.6,1334.4 584,1334.6 577.4Z"/>
<path d="M1335.6 560.2H1348.4Q1351 560.4 1350.2 563.2L1347.2 570.4Q1345.6 572.8 1335.6 573.4Z"/>
<path class="t" d="M1345.6 562.4L1348.8 562.4L1346 570.2L1342.8 570.2Z"/>
<path d="M1285 541.9H1324.6M1310.4 555.2H1322.6M1285 572H1297.4M1310.2 572H1322.6"/>
<path d="M1285 579.4H1297.6M1310 579.4H1322.6" style="stroke-width:2.4"/>
<rect x="1274.7" y="542.4" width="8.2" height="10.6"/>
<path d="M1272.2 553.4Q1272.2 552.2 1273.4 552.2H1284.2Q1285.4 552.2 1285.4 553.4L1284 559.8H1273.6Z"/>
<rect x="1274.8" y="559.8" width="8" height="10.8"/>
<path class="g" d="M1275.3 562.5H1282.3"/>
<path class="g" d="M1275.3 565.2H1282.3"/>
<path class="g" d="M1275.3 567.9H1282.3"/>
<path d="M1272.2 571.4Q1272.2 570.2 1273.4 570.2H1284.2Q1285.4 570.2 1285.4 571.4L1284 577.6H1273.6Z"/>
<rect x="1325.3" y="532.6" width="8.2" height="20.4"/>
<path d="M1322.8 553.4Q1322.8 552.2 1324 552.2H1334.8Q1336 552.2 1336 553.4L1334.6 559.8H1324.2Z"/>
<rect x="1325.4" y="559.8" width="8" height="10.8"/>
<path class="g" d="M1325.9 562.5H1332.9"/>
<path class="g" d="M1325.9 565.2H1332.9"/>
<path class="g" d="M1325.9 567.9H1332.9"/>
<path d="M1322.8 571.4Q1322.8 570.2 1324 570.2H1334.8Q1336 570.2 1336 571.4L1334.6 577.6H1324.2Z"/>
<rect x="1299.6" y="523.2" width="8.6" height="13.8" rx="1"/>
<rect x="1302" y="537" width="3.6" height="5"/>
<rect x="1299.8" y="542" width="8.2" height="11"/>
<path d="M1297.3 553.4Q1297.3 552.2 1298.5 552.2H1309.3Q1310.5 552.2 1310.5 553.4L1309.1 559.8H1298.7Z"/>
<rect x="1299.9" y="559.8" width="8" height="10.8"/>
<path class="g" d="M1300.4 562.5H1307.4"/>
<path class="g" d="M1300.4 565.2H1307.4"/>
<path class="g" d="M1300.4 567.9H1307.4"/>
<path d="M1297.3 571.4Q1297.3 570.2 1298.5 570.2H1309.3Q1310.5 570.2 1310.5 571.4L1309.1 577.6H1298.7Z"/>
<rect x="1299.9" y="577.6" width="8" height="12.4"/>
<path class="g" d="M1300.4 580.7H1307.4"/>
<path class="g" d="M1300.4 583.8H1307.4"/>
<path class="g" d="M1300.4 586.9H1307.4"/>
<path d="M1290.7 583.2H1317.7V592.4Q1315.7 594.74 1314.5 597.6H1293.9Q1292.7 594.74 1290.7 592.4Z"/>
<rect x="1299.9" y="577.6" width="8" height="11.8"/>
<path class="g" d="M1300.4 580.55H1307.4"/>
<path class="g" d="M1300.4 583.5H1307.4"/>
<path class="g" d="M1300.4 586.45H1307.4"/>
<path d="M1293.6 597.6H1314.8"/>
<path d="M1325.8 523.2L1422.6 556.3L1421 562.2C1410 560.8,1400 556,1389.6 550.4Z"/>
<path d="M1274.5 498.8L1390.8 546.9L1385.8 560.2L1274.6 506.4Z"/>
<path class="nofill" d="M1325.8 523.2L1422.6 556.3"/>
<path class="t" d="M1382.2 548.6L1390 546.6M1382.2 548.6L1387.4 552.4"/>
<path class="t" d="M1420.4 556.6L1422.8 554.6L1423.2 557.6"/>
</g>
<g class="F">
<path d="M866.8 0V1072" stroke="#000" stroke-width="1.7" fill="none"/>
<path d="M95 847.6H1412.5" stroke="#000" stroke-width="1.9" fill="none"/>
<path d="M0 842H145" stroke="#000" stroke-width="1.5" fill="none"/>
</g>
<g class="A">
<path d="M399.6 205L383.9 205L328.8 244.6"/>
<path d="M401.4 233.8L414.5 233.8L417.2 238L421.4 254.6"/>
<path class="ah" d="M421.4 254.6L417.74 248.3L421.62 247.32Z"/>
<path d="M266.6 266.4L175.2 265.6"/>
<path class="ah" d="M175.2 265.6L182.22 263.66L182.18 267.66Z"/>
<path class="ah" d="M284.6 275.2L287.09 270.58L289.31 272.88Z"/>
<path d="M435.2 287.6L417.6 287.6L408 285L401.4 278.9"/>
<path class="ah" d="M401.4 278.9L407.9 282.18L405.18 285.12Z"/>
<path d="M420.2 324L376.3 322.2"/>
<path class="ah" d="M376.3 322.2L383.38 320.49L383.21 324.49Z"/>
<path d="M582.9 323.4L622.9 325.2"/>
<path class="ah" d="M622.9 325.2L615.82 326.88L616 322.89Z"/>
<path d="M436.4 394.5L420 394.5L396.4 387.3"/>
<path class="ah" d="M396.4 387.3L403.68 387.43L402.51 391.26Z"/>
<path d="M540.3 384.8L591.6 389"/>
<path class="ah" d="M591.6 389L584.46 390.42L584.79 386.44Z"/>
<path d="M577.8 405.3L620.4 408.3"/>
<path class="ah" d="M620.4 408.3L613.28 409.8L613.56 405.81Z"/>
<path d="M690.2 406L703.5 406L705.5 402L707.2 394"/>
<path class="ah" d="M707.2 394L707.7 401.26L703.79 400.43Z"/>
<path d="M756.5 280.1L729.5 280.1"/>
<path class="ah" d="M729.5 280.1L736.5 278.1L736.5 282.1Z"/>
<path d="M712.7 302.2L697.7 302.2L661.9 280.1"/>
<path class="ah" d="M661.9 280.1L668.91 282.08L666.81 285.48Z"/>
<path d="M668.9 314.4L652.6 314.4L645.1 308.2"/>
<path class="ah" d="M645.1 308.2L651.77 311.12L649.22 314.2Z"/>
<path d="M757.8 379L729.5 379"/>
<path class="ah" d="M729.5 379L736.5 377L736.5 381Z"/>
<path d="M525.3 543.9L497.7 545.7"/>
<path class="ah" d="M497.7 545.7L504.56 543.25L504.82 547.24Z"/>
<path d="M480.7 642.3L465.2 642.3L458.2 611.5"/>
<path class="ah" d="M458.2 611.5L461.7 617.88L457.8 618.77Z"/>
<path d="M771.5 512.7L729.5 512.2"/>
<path class="ah" d="M729.5 512.2L736.52 510.28L736.48 514.28Z"/>
<path d="M105.6 672.6L124.7 673.3"/>
<path class="ah" d="M124.7 673.3L118.11 675.66L118.3 670.46Z"/>
<path d="M222.8 814L208.3 814L206.3 817L205.3 825.2"/>
<path class="ah" d="M205.3 825.2L204.24 819.03L207.81 819.46Z"/>
<path d="M942.6 233.8L927.6 233.8L907.6 248.8"/>
<path class="ah" d="M907.6 248.8L912 243L914.4 246.2Z"/>
<path d="M969.6 283.8L953.9 283.8L920.1 297.6"/>
<path class="ah" d="M920.1 297.6L925.82 293.1L927.34 296.81Z"/>
<path d="M1001.4 319.6L985.2 319.6L956.4 327.6"/>
<path class="ah" d="M956.4 327.6L962.61 323.8L963.68 327.65Z"/>
<path d="M933.1 337.7L916.3 337.7L911.5 335.6L908.2 332.4"/>
<path d="M1048.2 344.4L1032.7 344.4L1018.2 353.9"/>
<path class="ah" d="M1018.2 353.9L1022.96 348.39L1025.15 351.74Z"/>
<path d="M1057.7 367.7L1042.7 367.7L1027.2 375.7"/>
<path class="ah" d="M1027.2 375.7L1032.5 370.71L1034.34 374.27Z"/>
<path d="M1089 400.7L1066.5 402.2"/>
<path class="ah" d="M1066.5 402.2L1073.35 399.74L1073.62 403.73Z"/>
<path d="M917.1 407.7L903.6 407.7L901.6 405L898 346.4"/>
<path class="ah" d="M898 346.4L900.43 353.26L896.43 353.51Z"/>
<path d="M898.6 375.2H905.6"/>
<path d="M905 419.8L889.8 419.8L887.8 417L885 359.7"/>
<path class="ah" d="M885 359.7L887.34 366.59L883.34 366.79Z"/>
<path d="M1155.9 417.3L1139.8 417.3L1122.8 436.5"/>
<path class="ah" d="M1122.8 436.5L1125.94 429.93L1128.94 432.58Z"/>
<path d="M1169.1 439.8L1152.9 439.8L1137.3 448.3"/>
<path class="ah" d="M1137.3 448.3L1142.49 443.19L1144.4 446.71Z"/>
<path d="M959.6 450.3L933.8 450.3"/>
<path class="ah" d="M933.8 450.3L940.8 448.3L940.8 452.3Z"/>
<path d="M1204.2 467.8L1174.1 467.1"/>
<path class="ah" d="M1174.1 467.1L1181.14 465.26L1181.05 469.26Z"/>
<path d="M1255.8 459.3L1240.7 459.3L1236.5 502.6"/>
<path class="ah" d="M1236.5 502.6L1235.19 495.44L1239.17 495.83Z"/>
<path d="M1263.3 480.1L1249 480.1L1228.2 486.4"/>
<path class="ah" d="M1228.2 486.4L1234.32 482.46L1235.48 486.28Z"/>
<path d="M1274 502.1L1260.8 502.1L1256.5 511.9"/>
<path class="ah" d="M1256.5 511.9L1257.48 504.69L1261.14 506.29Z"/>
<path d="M1164.6 503.1L1146.4 500.1"/>
<path class="ah" d="M1146.4 500.1L1153.63 499.27L1152.98 503.21Z"/>
<path d="M1195.7 552.7L1180.7 552.7L1167.1 544.7"/>
<path class="ah" d="M1167.1 544.7L1174.15 546.53L1172.12 549.97Z"/>
<path d="M1157.6 597.7L1143.9 597.7L1139.6 590.7"/>
<path class="ah" d="M1139.6 590.7L1144.97 595.62L1141.56 597.71Z"/>
<path d="M999.8 566L985.6 566L984.3 568L983.8 577"/>
<path class="ah" d="M983.8 577L982.16 570.4L986.16 570.62Z"/>
<path d="M1180.7 822.2L1113.1 820.8"/>
<path class="ah" d="M1113.1 820.8L1120.14 818.95L1120.06 822.94Z"/>
</g>
<g class="D">
<path d="M51 192V230M123.4 192V246.5"/>
<path d="M62.5 197.6H62.5M111.9 197.6H111.9"/>
<path class="ah" d="M51 197.6L62.5 195L62.5 200.2Z"/>
<path class="ah" d="M123.4 197.6L111.9 200.2L111.9 195Z"/>
<path d="M21.3 237.4H33M32.5 231H48.8M32.5 243.8H48.8"/>
<path class="ah" d="M32.6 231H40.6L38.68 237.4L40.6 243.8H32.6L34.52 237.4Z"/>
<path d="M146.4 300V312.8M345.4 303V314"/>
<path d="M157.9 309.7H197M295 309.7H333.9"/>
<path class="ah" d="M146.4 309.7L157.9 307.1L157.9 312.3Z"/>
<path class="ah" d="M345.4 309.7L333.9 312.3L333.9 307.1Z"/>
<path d="M133.4 391.5V406.5M347.4 391.5V406.5"/>
<path d="M144.9 402.8H191M290 402.8H335.9"/>
<path class="ah" d="M133.4 402.8L144.9 400.2L144.9 405.4Z"/>
<path class="ah" d="M347.4 402.8L335.9 405.4L335.9 400.2Z"/>
<path class="w" d="M18 330H46M18 343.1H46M18 358.1H46M18 368.8H46"/>
<path class="ah" d="M18.1 330H25.7L23.88 336.55L25.7 343.1H18.1L19.92 336.55Z"/>
<path class="ah" d="M18.1 343.1H25.7L23.88 350.25L25.7 357.4H18.1L19.92 350.25Z"/>
<path class="ah" d="M18.1 358.1H25.7L23.88 363.85L25.7 369.6H18.1L19.92 363.85Z"/>
<path d="M418.9 443.7L574 447M401.3 461.6L587.7 460.7M415 515.8L577.3 518.4"/>
<path class="ah" d="M488.6 439.1H495.2L493.62 447.25L495.2 455.4H488.6L490.18 447.25Z"/>
<path class="ah" d="M501.7 450.2H508.3L506.72 460.95L508.3 471.7H501.7L503.28 460.95Z"/>
<path class="ah" d="M493 506.9H500L498.32 517L500 527.1H493L494.68 517Z"/>
<path d="M769.8 449.3L663 447.2"/>
<path class="ah" d="M657.9 445.6L664.16 445.58L663.14 449.03Z"/>
<path d="M5 521.4H17M24.7 515H43.8M24.7 527.8H43.8"/>
<path class="ah" d="M16.6 514.7H24.6L22.68 521.25L24.6 527.8H16.6L18.52 521.25Z"/>
<path d="M1329.6 562V602.6M1420.7 566.3V602.6"/>
<path class="ah" d="M1330 602.6L1342 599.8L1342 605.4Z"/>
<path class="ah" d="M1420.7 602.6L1408.7 605.4L1408.7 599.8Z"/>
</g>
<text class="tx" x="408.4" y="213.03" textLength="255">若兩材造每間各用一材隔間上下相閃</text>
<text class="tx" x="360.8" y="241.93">脊槫</text>
<text class="tx" x="274.3" y="273.93">替木</text>
<text class="tx" x="443.8" y="294.82" textLength="62.8">半栱在外</text>
<text class="tx" x="430.7" y="330.62" textLength="30.2">叉手</text>
<text class="tx" x="543.3" y="330.62" textLength="30.2">叉手</text>
<text class="tx" x="445.1" y="401.23">令栱</text>
<text class="tx" x="470" y="392.43" textLength="61.8">半栱在外</text>
<text class="tx" x="538.1" y="413.23">托腳</text>
<text class="tx" x="601.6" y="413.23" textLength="78.9">隔間用一材</text>
<text class="tx" x="765.2" y="287.32" textLength="62.8">兩材襻間</text>
<text class="tx" x="722.3" y="308.62" textLength="30.9">慢栱</text>
<text class="tx" x="677.7" y="321.82" textLength="47.5">瓜子栱</text>
<text class="tx" x="767.2" y="386.23" textLength="62.8">單材襻間</text>
<text class="tx" x="534.5" y="551.12" textLength="47.2">橑檐方</text>
<text class="tx" x="490.5" y="650.02">闌額</text>
<text class="tx" x="780.3" y="519.82" textLength="63.1">實拍襻間</text>
<text class="tx" x="779.1" y="456.03" textLength="63.7">捧節令栱</text>
<text class="tx" x="65.4" y="679.72">角柱</text>
<text class="tx" x="231.4" y="820.72">地栿</text>
<text class="tx" x="951.4" y="241.43">脊槫</text>
<text class="tx" x="980.1" y="291.03" textLength="77.8">丁華抹頦栱</text>
<text class="tx" x="1009.9" y="327.32">叉手</text>
<text class="tx" x="942.3" y="344.82">蜀柱</text>
<text class="tx" x="1057.5" y="352.32" textLength="46.7">上平槫</text>
<text class="tx" x="1067.2" y="374.93" textLength="62.7">單材襻間</text>
<text class="tx" x="929.8" y="382.43">平樑</text>
<text class="tx" x="1098.8" y="408.12">托腳</text>
<text class="tx" x="925.5" y="414.93" textLength="47.1">順栿串</text>
<text class="tx" x="913.4" y="427.43" textLength="58.8">合(木沓)</text>
<text class="tx" x="1165.2" y="424.23" textLength="46.7">中平槫</text>
<text class="tx" x="1178" y="447.43" textLength="63.6">捧節令栱</text>
<text class="tx" x="968.8" y="458.23" textLength="47">四椽栿</text>
<text class="tx" x="1213.1" y="474.93">托腳</text>
<text class="tx" x="1265.2" y="466.73" textLength="62.3">實拍襻間</text>
<text class="tx" x="1272.6" y="487.32" textLength="46.7">下平槫</text>
<text class="tx" x="1284.9" y="509.82" textLength="30.8">托腳</text>
<text class="tx" x="1172.4" y="511.03">劄牽</text>
<text class="tx" x="1204.9" y="561.12">乳栿</text>
<text class="tx" x="1166.9" y="606.22" textLength="93">出柱作丁頭栱</text>
<text class="tx" x="1007.9" y="573.52" textLength="47.1">順栿串</text>
<text class="tx" x="1190.1" y="829.92">地栿</text>
<text class="tg" x="56.1" y="203.93" textLength="61.8">出際之制</text>
<text class="tg" x="20.1" y="243.73" textLength="30.8">一材</text>
<text class="tg" x="198.9" y="316.12" textLength="94.1">半栱連身對隱</text>
<text class="tg" x="192.7" y="409.53" textLength="95.1">半栱連身對隱</text>
<text class="tg" x="-0.2" y="343.12" textLength="46.5">生頭木</text>
<text class="tg" x="14.2" y="355.73">槫</text>
<text class="tg" x="5.9" y="370.62">替木</text>
<text class="tg" x="476.5" y="452.53" textLength="30.8">替木</text>
<text class="tg" x="489.6" y="467.53" textLength="30.8">令栱</text>
<text class="tg" x="457.2" y="524.22" textLength="77.3">實拍不用枓</text>
<text class="tg" x="4.4" y="527.32">一材</text>
<text class="tg" x="1256.5" y="609.92" textLength="238.4">造檐之制見大木作制度圖樣二十五</text>
</svg>
</body></html>
